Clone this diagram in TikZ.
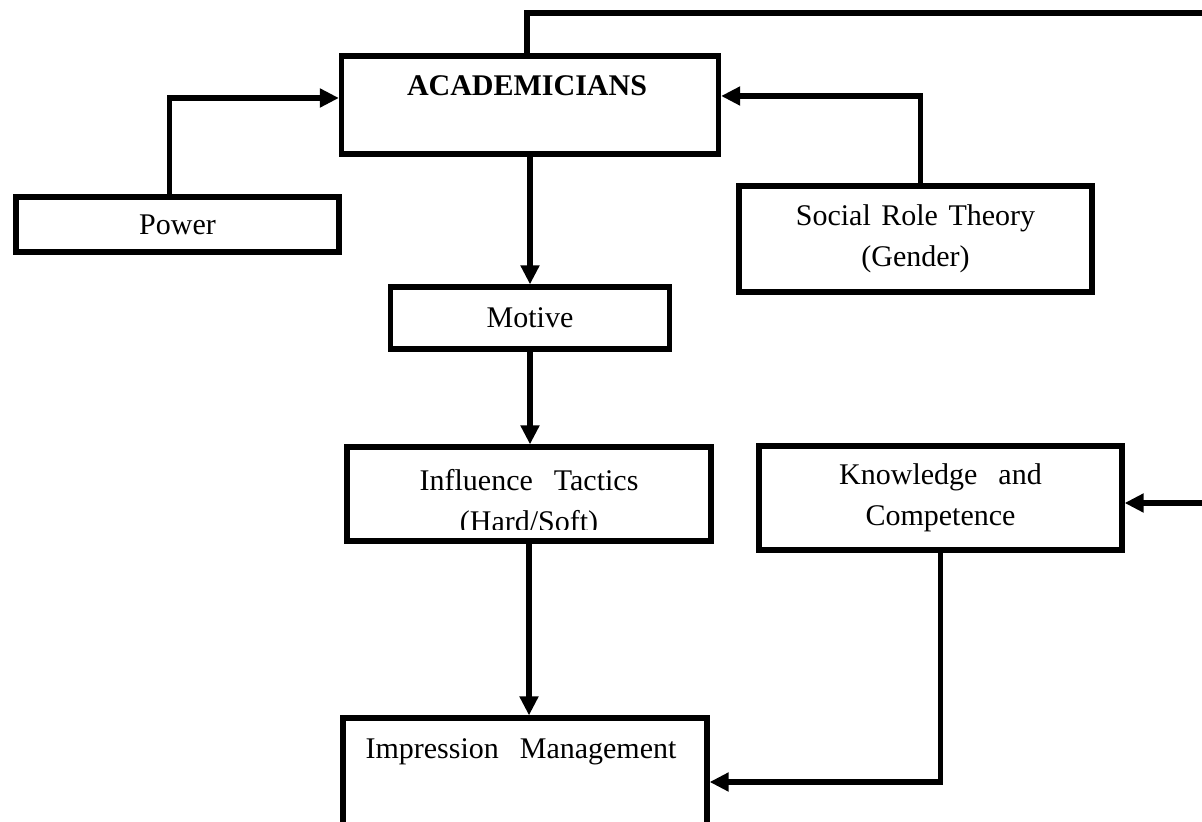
\documentclass[tikz,border=0pt]{standalone}
\usepackage{fontspec}
\setmainfont{Liberation Serif}
\usepackage{tikz}
\usetikzlibrary{arrows.meta}

\begin{document}
\begin{tikzpicture}[x=0.5pt,y=-0.5pt,
  box/.style={draw,line width=2.6pt,inner sep=0pt,align=center,font=\fontsize{15}{20.5}\selectfont},
  txt/.style={inner sep=0pt,align=center,font=\fontsize{15}{20.5}\selectfont},
  conn/.style={line width=2.6pt,-{Triangle[length=9.5pt,width=9pt]}}]
  \useasboundingbox (0,0) rectangle (1202,822);
  \node[box,minimum width=188.5pt,minimum height=49pt] (acad) at (530,105) {};
  \node[txt] (acadtxt) at (527,86) {\textbf{ACADEMICIANS}};
  \node[box,minimum width=161.5pt,minimum height=27.5pt] (pow) at (177.5,224.5) {Power};
  \node[box,minimum width=176.5pt,minimum height=53pt] (soc) at (915.5,239) {Social\hspace{0.35em}Role\hspace{0.35em}Theory\\(Gender)};
  \node[box,minimum width=139.5pt,minimum height=31pt] (mot) at (530,318) {Motive};
  \node[box,minimum width=182pt,minimum height=47pt] (infl) at (529,494) {};
  % second line is cut off by the box
  \begin{scope}
    \clip (350,450) rectangle (708,529);
    \node[txt] (infltxt) at (529,504) {Influence\hspace{0.7em}Tactics\\(Hard/Soft)};
  \end{scope}
  \node[box,minimum width=181.5pt,minimum height=52pt] (know) at (940.5,498) {Knowledge\hspace{0.7em}and\\Competence};
  \node[box,minimum width=182pt,minimum height=64pt] (imp) at (525,782) {};
  \node[txt] (imptxt) at (521,752) {Impression\hspace{0.7em}Management};
  \coordinate (rt) at (1262,13);
  \draw[conn] ([xshift=-1.5pt]acad.north) |- (rt) |- ([yshift=-2.5pt]know.east);
  \draw[conn] ([xshift=-4pt]pow.north) |- ([yshift=3.5pt]acad.west);
  \draw[conn] ([xshift=2.5pt]soc.north) |- ([yshift=4.5pt]acad.east);
  \draw[conn] (acad) -- (mot);
  \draw[conn] (mot.south) -- (mot.south |- infl.north);
  \draw[conn] (infl.south) -- (infl.south |- imp.north);
  \draw[conn] (know.south) |- (imp.east);
\end{tikzpicture}
\end{document}
